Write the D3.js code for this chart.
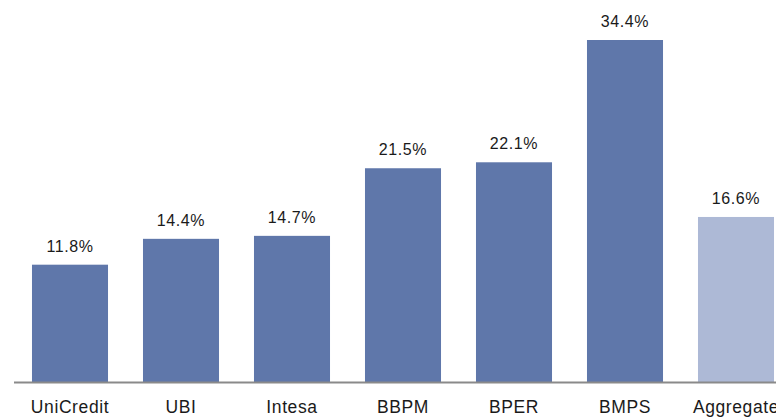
<!DOCTYPE html>
<html>
<head>
<meta charset="utf-8">
<script src="https://cdn.jsdelivr.net/npm/d3@7"></script>
<style>
  body { margin: 0; background: #fff; }
  text { font-family: "Liberation Sans", Arial, sans-serif; fill: #1a1a1a; }
</style>
</head>
<body>
<svg width="776" height="417"></svg>
<script>
const banks = ['UniCredit', 'UBI', 'Intesa', 'BBPM', 'BPER', 'BMPS', 'Aggregate'];
const values = [11.8, 14.4, 14.7, 21.5, 22.1, 34.4, 16.6];
const labels = ['11.8%', '14.4%', '14.7%', '21.5%', '22.1%', '34.4%', '16.6%'];

const data = banks.map((b, i) => ({ bank: b, value: values[i], label: labels[i] }));

const svg = d3.select('svg');

const baseY = 382;

const xScale = d3.scaleBand()
    .range([14.5, 14.5 + 777])
    .domain(banks)
    .paddingInner(0.315)
    .paddingOuter(0.1575);

const yScale = d3.scaleLinear()
    .range([baseY, 40])
    .domain([0, 34.4]);

svg.selectAll('.bar')
    .data(data)
    .enter()
    .append('rect')
    .attr('class', 'bar')
    .attr('x', (d) => xScale(d.bank))
    .attr('y', (d) => yScale(d.value))
    .attr('width', xScale.bandwidth())
    .attr('height', (d) => baseY - yScale(d.value))
    .attr('fill', (d) => d.bank === 'Aggregate' ? '#adb9d6' : '#5f77aa');

svg.selectAll('.val')
    .data(data)
    .enter()
    .append('text')
    .attr('class', 'val')
    .attr('x', (d) => xScale(d.bank) + xScale.bandwidth() / 2)
    .attr('y', (d) => yScale(d.value) - 13)
    .attr('text-anchor', 'middle')
    .attr('font-size', 16)
    .attr('letter-spacing', 0.6)
    .text((d) => d.label);

// x axis line
svg.append('line')
    .attr('x1', 14)
    .attr('x2', 776)
    .attr('y1', baseY + 0.5)
    .attr('y2', baseY + 0.5)
    .attr('stroke', '#8a8a8a')
    .attr('stroke-width', 2);

svg.selectAll('.cat')
    .data(data)
    .enter()
    .append('text')
    .attr('class', 'cat')
    .attr('x', (d) => xScale(d.bank) + xScale.bandwidth() / 2)
    .attr('y', 413)
    .attr('text-anchor', 'middle')
    .attr('font-size', 17.5)
    .attr('letter-spacing', 0.6)
    .text((d) => d.bank);
</script>
</body>
</html>
